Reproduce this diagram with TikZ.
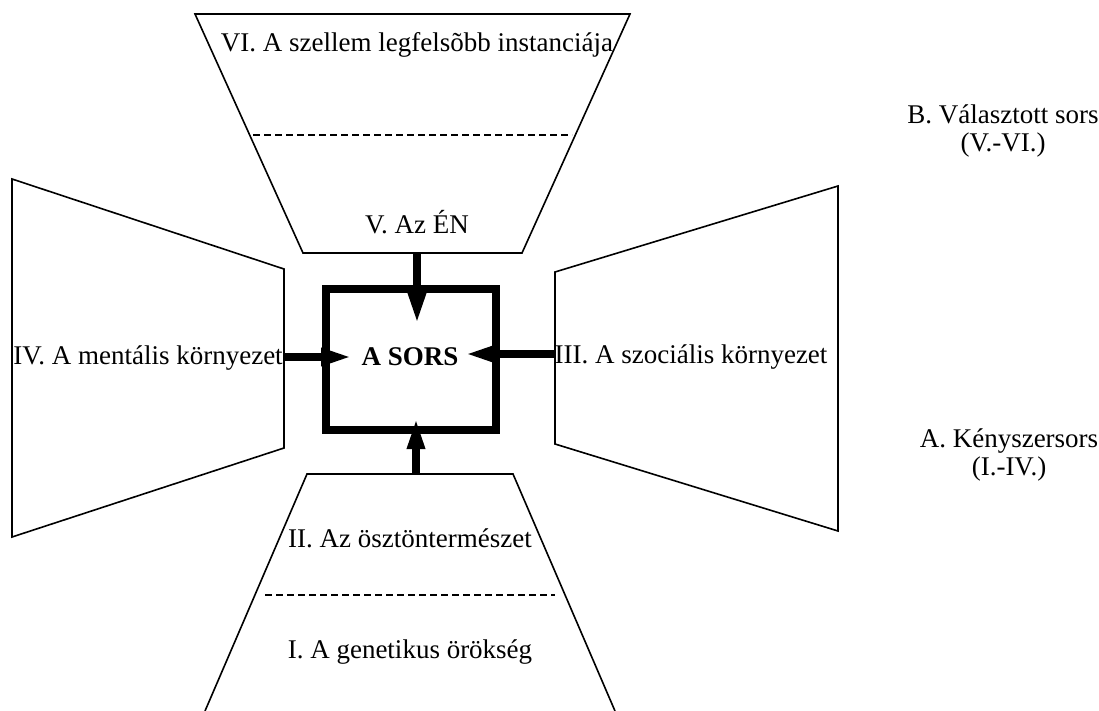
\documentclass[tikz,border=0pt]{standalone}
\usepackage{fontspec}
\setmainfont{Liberation Serif}
\usetikzlibrary{arrows.meta}
\begin{document}
\begin{tikzpicture}[x=1pt,y=-1pt,>={Triangle[length=32pt,width=16pt]},
  frame/.style={line width=1.6pt,line join=miter},
  sep/.style={line width=1.2pt,dash pattern=on 7pt off 4pt},
  lbl/.style={font=\fontsize{27}{28}\selectfont,inner sep=0pt},
  push/.style={line width=8pt,->}]
  \useasboundingbox (0,0) rectangle (1099,711);

  % the four fields round the centre
  \draw[frame] (195,14) -- (630,14) -- (522,253) -- (303,253) -- cycle;
  \draw[frame] (205,711) -- (307,474) -- (513,474) -- (615,711);
  \draw[frame] (12,179) -- (284,269) -- (284,448) -- (12,537) -- cycle;
  \draw[frame] (838,186) -- (555,272) -- (555,444) -- (838,531) -- cycle;
  \draw[sep] (253,135) -- (572,135);
  \draw[sep] (265,595) -- (555,595);

  % the fate box
  \draw[line width=8pt] (326,289) rectangle (496,430);

  \node[lbl] (spirit) at (417,45) {VI. A szellem legfelsõbb instanciája};
  \node[lbl] (self) at (417,222) {V. Az ÉN};
  \node[lbl] (instinct) at (410,538) {II. Az ösztöntermészet};
  \node[lbl] (genetic) at (410,652) {I. A genetikus örökség};
  \node[lbl] (mental) at (148,358) {IV. A mentális környezet};
  \node[lbl] (social) at (691,357) {III. A szociális környezet};
  \node[lbl,font=\fontsize{27}{28}\selectfont\bfseries] (fate) at (410,357) {A SORS};
  \node[lbl,align=center] (chosen) at (1003,131) {B. Választott sors\\(V.-VI.)};
  \node[lbl,align=center] (forced) at (1009,455) {A. Kényszersors\\(I.-IV.)};

  \coordinate (topin) at (417,253);
  \coordinate (topout) at (417,325);
  \coordinate (botin) at (416,474);
  \coordinate (botout) at (416,417);
  \coordinate (leftin) at (284,357);
  \coordinate (leftout) at (353,357);
  \coordinate (rightin) at (555,354);
  \coordinate (rightout) at (464,354);

  \draw[push] (topin) -- (topout);
  \draw[push] (botin) -- (botout);
  \draw[push] (leftin) -- (leftout);
  \draw[push] (rightin) -- (rightout);
\end{tikzpicture}
\end{document}
